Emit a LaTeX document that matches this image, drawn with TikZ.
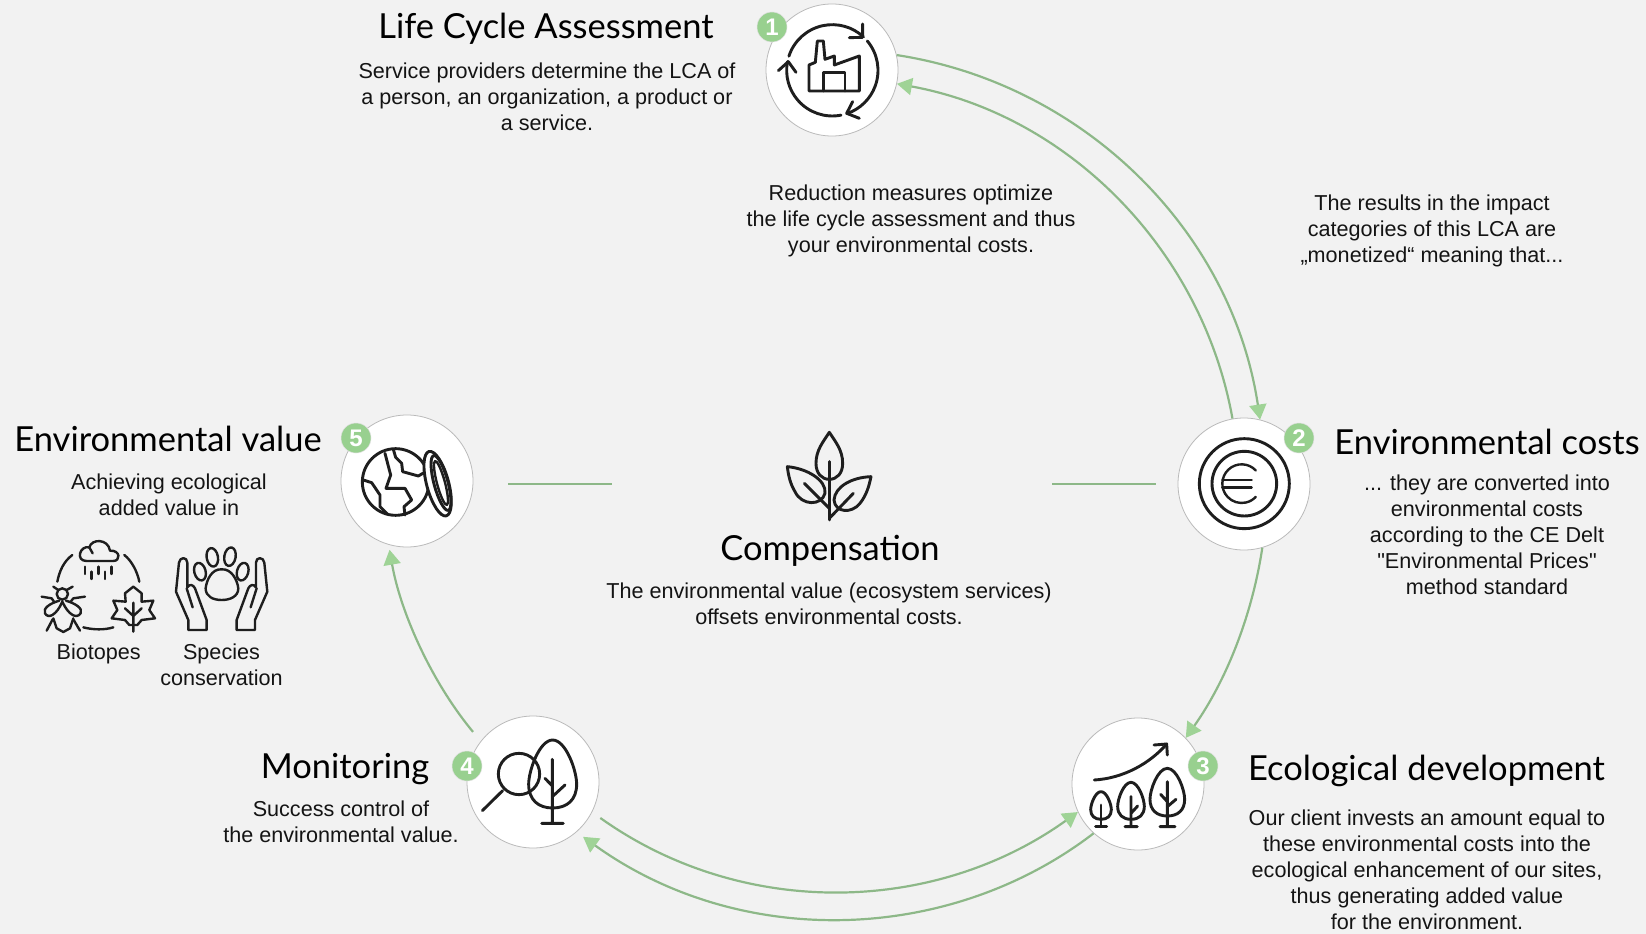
\documentclass[tikz,border=0pt]{standalone}
\usepackage{fontspec}
\setmainfont{Liberation Sans}
\newfontfamily\bodyfont{Liberation Sans}
\newfontfamily\titlefont{Lato}
\usetikzlibrary{arrows.meta}
\definecolor{bgc}{HTML}{F2F2F2}
\definecolor{ink}{HTML}{1E1E1E}
\definecolor{linec}{HTML}{8DB888}
\definecolor{tipc}{HTML}{9FD396}
\definecolor{badgec}{HTML}{98D08F}
\newcommand\eggpath{(0,0) .. controls (.55,0) and (1,.45) .. (1,.65) .. controls (1,.88) and (.6,1) .. (0,1) .. controls (-.6,1) and (-1,.88) .. (-1,.65) .. controls (-1,.45) and (-.55,0) .. (0,0) -- cycle}
\tikzset{
  stage/.style={circle,draw=black!27,line width=.8pt,fill=white,minimum size=132pt,inner sep=0pt},
  badge/.style={circle,fill=badgec,draw=black!12,line width=.5pt,minimum size=30pt,inner sep=0pt,text=white,font=\fontsize{24}{24}\selectfont\bfseries},
  titletxt/.style={font=\titlefont\fontsize{34.5}{38}\selectfont,text=black,inner sep=0pt},
  bodytxt/.style={font=\bodyfont\fontsize{21.6}{26}\selectfont,align=center,text=black!92,inner sep=0pt},
  flow/.style={draw=linec,line width=2.2pt,-{Triangle[length=15pt,width=17pt,color=tipc]}},
  plainflow/.style={draw=linec,line width=2.2pt},
  icon/.style={draw=ink,line width=2.9pt,line cap=round,line join=round},
  iconthin/.style={draw=ink,line width=2.4pt,line cap=round,line join=round},
  zoomed/.style={x=.3333pt,y=-.3333pt}
}
\begin{document}
\begin{tikzpicture}[x=1pt,y=-1pt]
\useasboundingbox (0,0) rectangle (1646,934);
\fill[bgc] (0,0) rectangle (1646,934);

\node[stage] (c1) at (832,70) {};
\node[stage] (c2) at (1244,484) {};
\node[stage] (c3) at (1138,784) {};
\node[stage] (c4) at (533,782) {};
\node[stage] (c5) at (407,481) {};
\node[badge] (b1) at (772,27) {1};
\node[badge] (b2) at (1299,438) {2};
\node[badge] (b3) at (1203,766) {3};
\node[badge] (b4) at (467,766) {4};
\node[badge] (b5) at (356,438) {5};

\coordinate (la) at (508,484); \coordinate (lb) at (612,484);
\coordinate (ra) at (1052,484); \coordinate (rb) at (1156,484);
\draw[plainflow] (la) -- (lb);
\draw[plainflow] (ra) -- (rb);

\draw[flow] (c1.13) .. controls (1085,84) and (1232,232) .. (c2.76);
\draw[flow] (c2.100) .. controls (1202,249) and (1068,115) .. (c1.-12);
\draw[flow] (c2.-74) .. controls (1252,616) and (1226,681) .. (c3.44);
\draw[flow,shorten >=8pt] (c3.-132) .. controls (948,945) and (739,949) .. (c4.-49);
\draw[flow,shorten <=10pt] (c4.-27) .. controls (742,919) and (934,915) .. (c3.-155);
\draw[flow,shorten <=12pt,shorten >=5pt] (c4.142) .. controls (430,680) and (400,610) .. (c5.-106);

% texts
\node[titletxt] (t1) at (546,29) {Life Cycle Assessment};
\node[bodytxt] (d1) at (547,96.5) {Service providers determine the LCA of\\a person, an organization, a product or\\a service.};
\node[bodytxt] (n1) at (911,220.5) {Reduction measures optimize\\the life cycle assessment and thus\\your environmental costs.};
\node[bodytxt] (n2) at (1432,230.5) {The results in the impact\\categories of this LCA are\\„monetized“ meaning that...};
\node[titletxt] (t2) at (1487,442) {Environmental costs};
\node[bodytxt] (d2) at (1487,535) {... they are converted into\\environmental costs\\according to the CE Delt\\"Environmental Prices"\\method standard};
\node[titletxt] (t3) at (1426.5,771) {Ecological development};
\node[bodytxt] (d3) at (1427,870) {Our client invests an amount equal to\\these environmental costs into the\\ecological enhancement of our sites,\\thus generating added value\\for the environment.};
\node[titletxt] (t4) at (345,769) {Monitoring};
\node[bodytxt] (d4) at (341,822) {Success control of\\the environmental value.};
\node[titletxt] (t5) at (168,439) {Environmental value};
\node[bodytxt] (d5) at (169,494.5) {Achieving ecological\\added value in};
\node[bodytxt] (s1) at (98.7,653.5) {Biotopes};
\node[bodytxt] (s2) at (221.5,665) {Species\\conservation};
\node[titletxt] (t6) at (830,551) {Compensation};
\node[bodytxt] (d6) at (829,604) {The environmental value (ecosystem services)\\offsets environmental costs.};

% icon 1
\begin{scope}[shift={(740,0)},zoomed]
\draw[icon] ([shift={(-162:137)}]277,211) arc[start angle=-162,end angle=-47,radius=137];
\draw[icon] (328,113) -- (368,112) -- (368,72);
\draw[icon] ([shift={(-40:137)}]277,211) arc[start angle=-40,end angle=71,radius=137];
\draw[icon] (338,305) -- (320,340) -- (358,355);
\draw[icon] ([shift={(79:137)}]277,211) arc[start angle=79,end angle=191,radius=137];
\draw[icon] (115,212) -- (145,185) -- (168,217);
\draw[icon] (207,273) -- (207,195) -- (226,187) -- (232,123) -- (250,123) -- (255,178) -- (283,168) -- (283,195) -- (358,168) -- (358,273) -- cycle;
\draw[icon] (250,273) -- (250,218) -- (315,218) -- (315,273);
\end{scope}

% icon 2
\begin{scope}[shift={(1160,380)},zoomed]
\draw[icon] (253,311) circle[radius=135];
\draw[icon] (253,311) circle[radius=97];
\draw[iconthin] ([shift={(-43:58)}]245,311) arc[start angle=-43,end angle=-317,radius=58];
\draw[iconthin] (187,300) -- (275,300);
\draw[iconthin] (187,322) -- (275,322);
\end{scope}

% icon 3
\begin{scope}[shift={(1050,700)},zoomed]
\draw[icon] (133,240) .. controls (220,235) and (300,190) .. (350,132);
\draw[icon] (312,135) -- (350,132) -- (352,165);
\draw[icon,shift={(153,275)},xscale=31,yscale=83] \eggpath;
\draw[icon] (153,315) -- (153,380) (137,380) -- (170,380);
\draw[icon,shift={(243,247)},xscale=40,yscale=111] \eggpath;
\draw[icon] (243,290) -- (243,380) (225,380) -- (262,380) (243,340) -- (263,318);
\draw[icon,shift={(352,205)},xscale=52,yscale=143] \eggpath;
\draw[icon] (352,245) -- (352,380) (330,380) -- (375,380) (352,320) -- (378,298) (352,305) -- (332,283);
\end{scope}

% icon 4
\begin{scope}[shift={(440,700)},zoomed]
\draw[icon] (237,222) circle[radius=62];
\draw[icon] (188,272) -- (127,332);
\draw[icon,shift={(338,120)},xscale=72,yscale=204] \eggpath;
\draw[icon] (337,178) -- (337,370) (305,370) -- (370,370) (337,290) -- (375,255) (337,258) -- (315,235);
\end{scope}

% icon 5
\begin{scope}[shift={(330,400)},zoomed]
\draw[icon] (197,246) circle[radius=100];
\draw[icon] (190,148) -- (197,172) -- (215,190) -- (218,215) -- (265,228) -- (282,218);
\draw[icon] (165,160) -- (182,225) -- (168,265) -- (225,265) -- (245,300) -- (222,320) -- (225,345);
\draw[icon] (100,240) -- (125,248) -- (150,285) -- (150,320) -- (172,342);
\draw[icon,fill=white,shift={(323,251)},rotate=15] (0,0) ellipse[x radius=33,y radius=100];
\draw[icon,shift={(333,249)},rotate=15] (0,0) ellipse[x radius=21,y radius=85];
\draw[iconthin,shift={(333,249)},rotate=15] (0,0) ellipse[x radius=12,y radius=68];
\end{scope}

% small icons
\begin{scope}[shift={(30,530)},zoomed]
\draw[iconthin] (170,93) -- (250,93) .. controls (272,93) and (272,60) .. (240,62) .. controls (235,26) and (185,25) .. (178,52) .. controls (150,45) and (135,93) .. (170,93);
\draw[iconthin] (178,52) -- (188,70);
\draw[iconthin] (165,110) -- (165,132) (185,125) -- (185,147) (205,110) -- (205,132) (225,125) -- (225,147) (245,110) -- (245,132);
\draw[iconthin] (127,75) .. controls (100,95) and (88,125) .. (82,155);
\draw[iconthin] (283,75) .. controls (305,92) and (322,125) .. (328,155);
\draw[iconthin] (160,292) .. controls (190,300) and (225,300) .. (250,292);
% fly
\draw[iconthin] (97,192) circle[radius=17];
\draw[iconthin] (70,170) -- (85,180) (128,170) -- (110,180);
\draw[iconthin] (35,200) -- (65,205) -- (72,215) (165,200) -- (130,205) -- (122,215);
\draw[iconthin] (88,212) .. controls (60,220) and (38,235) .. (45,250) .. controls (55,268) and (80,255) .. (97,215) .. controls (115,255) and (140,268) .. (152,250) .. controls (160,235) and (135,220) .. (108,212);
\draw[iconthin] (70,265) -- (80,295) -- (100,306) -- (120,295) -- (130,265);
\draw[iconthin] (50,302) -- (68,268) (150,302) -- (130,268);
% leaf
\draw[iconthin] (310,170) -- (285,190) -- (287,215) -- (250,212) -- (262,240) -- (245,265) -- (285,270) -- (298,285) -- (322,285) -- (335,270) -- (375,265) -- (358,240) -- (370,212) -- (335,215) -- (335,190) -- cycle;
\draw[iconthin] (310,218) -- (310,305) (285,235) -- (310,258) -- (335,235);
% hands
\foreach \m/\o in {1/0,-1/1150}{
\begin{scope}[shift={(\o,0)},xscale=\m]
\draw[iconthin] (475,300) -- (475,270) -- (438,185) -- (447,98) .. controls (449,80) and (472,80) .. (472,98) -- (472,172) .. controls (480,160) and (490,165) .. (495,175) -- (530,270) -- (530,300) -- cycle;
\draw[iconthin] (470,175) -- (488,232);
\end{scope}}
% paw
\draw[iconthin] (575,118) .. controls (545,116) and (530,150) .. (527,175) .. controls (527,200) and (550,210) .. (575,210) .. controls (600,210) and (625,200) .. (625,175) .. controls (622,150) and (605,116) .. (575,118);
\draw[iconthin,shift={(510,125)},rotate=15] (0,0) ellipse[x radius=17,y radius=27];
\draw[iconthin,shift={(547,82)},rotate=10] (0,0) ellipse[x radius=17,y radius=28];
\draw[iconthin,shift={(600,80)},rotate=-10] (0,0) ellipse[x radius=17,y radius=28];
\draw[iconthin,shift={(638,125)},rotate=-15] (0,0) ellipse[x radius=17,y radius=27];
\end{scope}

% plant
\begin{scope}[shift={(770,420)},zoomed]
\draw[icon] (178,37) .. controls (160,65) and (138,90) .. (138,130) .. controls (138,160) and (155,178) .. (178,178) .. controls (201,178) and (218,160) .. (218,130) .. controls (218,90) and (196,65) .. (178,37) -- cycle;
\draw[icon] (178,125) -- (178,300);
\draw[icon] (52,140) .. controls (110,145) and (170,180) .. (165,220) .. controls (155,258) and (95,258) .. (75,215) .. controls (60,190) and (55,165) .. (52,140) -- cycle;
\draw[icon] (103,190) -- (178,265);
\draw[icon] (303,170) .. controls (245,172) and (195,200) .. (192,240) .. controls (195,278) and (245,282) .. (270,250) .. controls (290,225) and (298,195) .. (303,170) -- cycle;
\draw[icon] (250,220) -- (178,295);
\end{scope}
\end{tikzpicture}
\end{document}
